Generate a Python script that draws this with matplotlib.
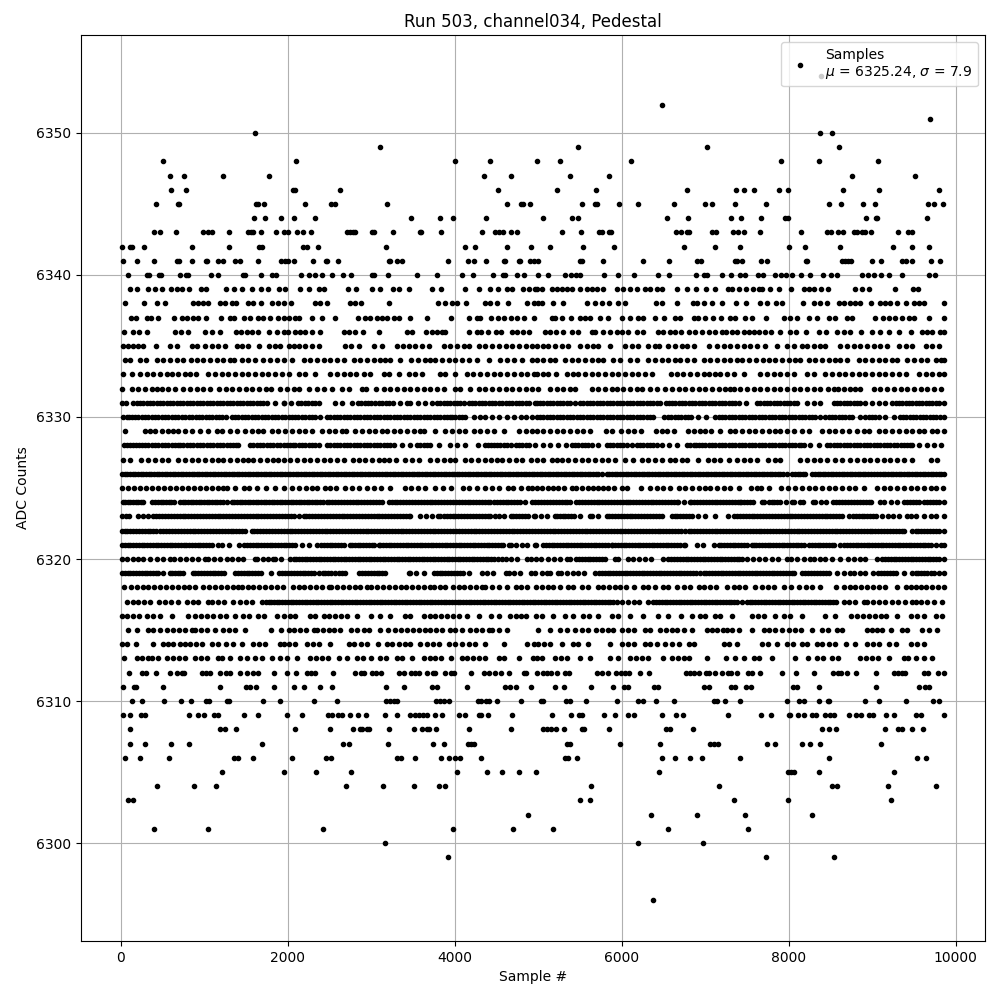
import matplotlib
matplotlib.use('Agg')
import matplotlib.pyplot as plt

# sample numbers, one list per ADC count
s6296 = [6381]
s6299 = [3916, 7725, 8541]
s6300 = [3160, 6201, 6969]
s6301 = [400, 1048, 2416, 3976, 4696, 5181, 6561, 7509]
s6302 = [4876, 6357, 6897, 7473, 8277]
s6303 = [84, 148, 5505, 5625, 7341, 7989, 9225]
s6304 = [436, 880, 1144, 2692, 3136, 3508, 3808, 3880, 5637, 7161, 8517, 8577, 9189, 9765]
s6305 = [1216, 1948, 2332, 2752, 4024, 4384, 4564, 4768, 4977, 6453, 7989, 8025, 8061, 8361, 9261]
s6306 = [52, 232, 580, 1360, 1408, 1588, 2044, 2452, 2512, 3312, 3360, 3520, 3832, 3928, 4000, 4060, 4312,
         5325, 5361, 5469, 6489, 6633, 6813, 6957, 7413, 8481, 9537, 9645]
s6307 = [112, 292, 604, 820, 1696, 2656, 2728, 3196, 3736, 3868, 4156, 4192, 4228, 5349, 5385, 5985, 6465,
         7053, 7101, 7149, 7737, 7833, 8157, 8253, 8373, 9105]
s6308 = [112, 1192, 1252, 1384, 2080, 2500, 2776, 2860, 2884, 2944, 2968, 3208, 3508, 3604, 3664, 3688, 3772,
         4168, 4672, 5061, 5109, 5157, 5217, 5313, 5529, 5553, 5853, 6537, 6585, 6849, 8397, 8481, 8565, 9153,
         9309, 9357, 9477, 9609]
s6309 = [28, 112, 244, 292, 820, 928, 1000, 1120, 1168, 1480, 1648, 1984, 2164, 2476, 2524, 2596, 2644, 2740,
         2836, 2932, 3160, 3304, 3460, 3520, 3568, 3616, 3664, 3760, 3844, 4048, 4120, 4288, 4312, 4396, 4684,
         5169, 5397, 5493, 5529, 5793, 5925, 6081, 6153, 6489, 6645, 6729, 7269, 7665, 7785, 8001, 8013, 8109,
         8181, 8277, 8325, 8433, 8493, 8541, 8721, 8805, 8865, 8961, 9009, 9165, 9261, 9525, 9585, 9861]
s6310 = [136, 256, 520, 724, 844, 1024, 1060, 1276, 1300, 1708, 1912, 2308, 2584, 3172, 3220, 3268, 3304, 3772,
         3820, 3868, 3928, 4276, 4312, 4372, 4408, 4504, 4792, 5037, 5061, 5337, 5385, 5577, 5949, 6201, 6261,
         6417, 6621, 7101, 7137, 7233, 7413, 7977, 8121, 8181, 8361, 8469, 8481, 8913, 9081, 9405, 9729, 9801]
s6311 = [28, 160, 184, 508, 1192, 1504, 1552, 1624, 1840, 2068, 2188, 2380, 2524, 3172, 3388, 3724, 3784, 4144,
         4600, 4660, 4732, 4912, 5205, 5313, 5637, 5901, 6033, 6081, 6393, 6441, 6981, 7041, 7305, 7353, 7485,
         7545, 8049, 8097, 8361, 9045, 9561, 9633, 9681]
s6312 = [100, 256, 304, 424, 592, 676, 736, 760, 976, 1024, 1072, 1192, 1264, 1312, 1432, 1516, 1588, 1648, 1840,
         1984, 2092, 2224, 2272, 2320, 2536, 2800, 2872, 2908, 3004, 3052, 3112, 3328, 3388, 3472, 3520, 3568,
         3664, 3736, 3760, 3880, 3952, 3988, 4192, 4348, 4408, 4480, 4552, 4648, 4828, 4852, 4989, 5061, 5109,
         5157, 5229, 5325, 5373, 5709, 5769, 5841, 5937, 5997, 6045, 6093, 6225, 6333, 6765, 6813, 6861, 6921,
         7005, 7041, 7113, 7197, 7269, 7305, 7377, 7509, 7557, 7653, 7917, 8085, 8301, 8529, 8589, 8625, 8697,
         8805, 9045, 9261, 9309, 9357, 9393, 9621, 9669, 9789, 9861]
s6313 = [40, 188, 258, 328, 376, 440, 548, 628, 698, 768, 888, 960, 1028, 1168, 1208, 1308, 1428, 1508, 1608, 1688,
         1808, 1908, 1988, 2108, 2268, 2338, 2408, 2478, 2608, 2708, 2828, 2896, 3000, 3108, 3178, 3308, 3368,
         3488, 3628, 3698, 3768, 3838, 3958, 4088, 4148, 4218, 4288, 4358, 4528, 4588, 4768, 4936, 4981, 5041,
         5201, 5271, 5341, 5501, 5621, 5861, 5961, 6101, 6171, 6241, 6311, 6501, 6601, 6671, 6741, 6811, 7021,
         7249, 7361, 7461, 7581, 7641, 7801, 8081, 8233, 8341, 8411, 8521, 8593, 8861, 8931, 9001, 9071, 9201,
         9381, 9433, 9521, 9621, 9721]
s6314 = [14, 74, 176, 388, 508, 568, 628, 708, 768, 828, 898, 968, 1088, 1168, 1258, 1348, 1456, 1588, 1658, 1728,
         1908, 1948, 2018, 2088, 2228, 2298, 2368, 2508, 2728, 2788, 2880, 2948, 3076, 3188, 3248, 3328, 3398,
         3468, 3588, 3668, 3738, 3808, 3928, 4008, 4088, 4168, 4248, 4368, 4588, 4868, 4948, 5001, 5071, 5141,
         5281, 5421, 5481, 5601, 5861, 6009, 6079, 6149, 6281, 6341, 6429, 6521, 6601, 6681, 6801, 6861, 7221,
         7289, 7381, 7681, 7751, 7861, 7981, 8051, 8161, 8221, 8341, 8401, 8481, 8561, 8689, 8793, 8941, 9011,
         9081, 9201, 9289, 9461, 9541, 9621]
s6315 = [88, 188, 328, 388, 468, 548, 628, 698, 768, 848, 888, 958, 1028, 1128, 1228, 1298, 1368, 1488, 1800, 1916,
         2008, 2078, 2148, 2218, 2308, 2348, 2418, 2488, 2558, 2628, 2760, 2828, 2908, 2978, 3108, 3200, 3288,
         3358, 3428, 3498, 3568, 3648, 3708, 3776, 3848, 3948, 4008, 4088, 4188, 4258, 4328, 4408, 4448, 4528,
         4628, 4993, 5141, 5261, 5349, 5441, 5521, 5593, 5689, 5761, 5831, 5901, 6001, 6081, 6151, 6281, 6341,
         6461, 6531, 6601, 6661, 6741, 6841, 7021, 7081, 7141, 7211, 7261, 7321, 7409, 7561, 7701, 7771, 7841,
         7921, 8001, 8081, 8151, 8281, 8401, 8471, 8581, 8641, 8941, 9001, 9061, 9121, 9233, 9361, 9421, 9593,
         9681, 9781]
s6316 = [14, 74, 144, 214, 308, 380, 468, 608, 800, 888, 960, 1028, 1108, 1188, 1258, 1368, 1468, 1538, 1648, 1716,
         1868, 1948, 2028, 2088, 2260, 2328, 2428, 2498, 2568, 2638, 2708, 2828, 3000, 3108, 3228, 3400, 3468,
         3628, 3698, 3768, 3838, 3908, 3978, 4048, 4148, 4288, 4440, 4528, 4656, 4728, 4788, 4858, 4968, 5049,
         5181, 5321, 5421, 5541, 5611, 5721, 5881, 5961, 6101, 6261, 6441, 6561, 6713, 6841, 6941, 7001, 7121,
         7181, 7321, 7561, 7631, 7701, 7841, 7941, 8021, 8161, 8441, 8561, 8753, 8823, 8893, 8963, 9033, 9103,
         9173, 9301, 9461, 9541, 9621, 9761, 9833]
s6317 = [68, 148, 208, 278, 348, 456, 528, 598, 688, 788, 858, 928, 1048, 1096, 1166, 1236, 1348, 1428, 1498, 1568,
         1688, 1736, 1800, 1866, 1934, 2000, 2066, 2132, 2200, 2268, 2334, 2400, 2466, 2534, 2600, 2666, 2732,
         2800, 2866, 2934, 3000, 3066, 3132, 3200, 3268, 3334, 3400, 3466, 3534, 3600, 3666, 3732, 3800, 3866,
         3934, 4000, 4066, 4132, 4200, 4268, 4334, 4400, 4466, 4534, 4600, 4666, 4732, 4800, 4866, 4934,
         4965, 5031, 5097, 5165, 5231, 5297, 5365, 5431, 5497, 5565, 5631, 5697, 5765, 5831, 5897, 5941, 6001,
         6073, 6143, 6213, 6321, 6381, 6447, 6515, 6581, 6647, 6715, 6781, 6847, 6915, 6981, 7047, 7115, 7181,
         7247, 7315, 7381, 7441, 7501, 7567, 7635, 7701, 7767, 7835, 7901, 7967, 8035, 8101, 8167, 8235, 8301,
         8367, 8435, 8501, 8567, 8661, 8721, 8801, 8901, 8941, 9011, 9081, 9151, 9241, 9313, 9393, 9481, 9521,
         9591, 9661, 9741, 9833]
f6317 = [1770, 1833, 1900, 1967, 2033, 2099, 2166, 2234, 2301, 2367, 2433, 2500, 2567, 2633, 2699, 2766, 2833, 2900,
         2967, 3033, 3099, 3166, 3234, 3301, 3367, 3433, 3500, 3567, 3633, 3699, 3766, 3833, 3900, 3967, 4033,
         4099, 4166, 4234, 4301, 4367, 4433, 4500, 4567, 4633, 4699, 4766, 4833, 4900, 4998, 5064, 5131, 5198,
         5264, 5331, 5398, 5464, 5531, 5598, 5664, 5731, 5798, 5864, 6414, 6481, 6548, 6614, 6681, 6748, 6814,
         6881, 6948, 7014, 7081, 7148, 7214, 7281, 7348, 7534, 7601, 7668, 7734, 7801, 7868, 7934, 8001, 8068,
         8134, 8201, 8268, 8334, 8401, 8468, 8534]
s6318 = [40, 120, 190, 260, 330, 400, 470, 540, 610, 680, 750, 820, 888, 988, 1058, 1128, 1198, 1268, 1338, 1408,
         1448, 1518, 1588, 1658, 1728, 1798, 1868, 1938, 2056, 2128, 2198, 2268, 2338, 2408, 2488, 2520, 2590,
         2660, 2730, 2800, 2870, 2948, 3000, 3070, 3140, 3210, 3280, 3350, 3420, 3490, 3560, 3630, 3708, 3748,
         3818, 3888, 3976, 4046, 4116, 4186, 4256, 4328, 4368, 4448, 4528, 4628, 4728, 4798, 4868, 4968, 5041,
         5121, 5181, 5261, 5361, 5421, 5521, 5593, 5721, 5781, 5849, 5921, 5981, 6049, 6153, 6261, 6313, 6401,
         6501, 6561, 6661, 6741, 6821, 6921, 6991, 7061, 7131, 7261, 7341, 7411, 7481, 7601, 7681, 7751, 7821,
         7941, 8031, 8121, 8209, 8281, 8381, 8569, 8661, 8731, 8801, 8871, 8941, 9011, 9081, 9151, 9301, 9401,
         9461, 9521, 9581, 9651, 9721, 9791, 9861]
s6319 = [14, 80, 148, 216, 284, 352, 420, 448, 500, 590, 608, 678, 748, 868, 888, 958, 1028, 1098, 1168, 1238, 1368,
         1400, 1470, 1540, 1610, 1680, 1800, 1896, 1966, 2036, 2106, 2176, 2246, 2316, 2378, 2416, 2486, 2568,
         2616, 2686, 2848, 2888, 2958, 3028, 3098, 3168, 3448, 3468, 3538, 3628, 3748, 3818, 3888, 3958, 4028, 4098,
         4168, 4328, 4388, 4458, 4608, 4648, 4708, 4778, 4908, 4965, 5041, 5101, 5141, 5241, 5273, 5341, 5411,
         5481, 5553, 5681, 5729, 5797, 5865, 5933, 6001, 6069, 6137, 6205, 6273, 6341, 6409, 6477, 6545, 6613,
         6681, 6749, 6817, 6885, 6941, 6981, 7049, 7117, 7185, 7253, 7321, 7389, 7457, 7525, 7593, 7661, 7729,
         7797, 7865, 7933, 8001, 8069, 8161, 8201, 8271, 8341, 8411, 8481, 8581, 8661, 8741, 8781, 8851, 8921,
         9009, 9073, 9143, 9213, 9283, 9381, 9481, 9521, 9591, 9661, 9741, 9801, 9861]
f6319 = [48, 114, 182, 250, 318, 386, 644, 713, 923, 993, 1063, 1133, 1203, 1435, 1505, 1575, 1645, 1931, 2001, 2071,
         2141, 2211, 2281, 2451, 2521, 2651, 2923, 2993, 3063, 3133, 3783, 3853, 3923, 3993, 4063, 5763, 5831,
         5899, 5967, 6035, 6103, 6171, 6239, 6307, 6375, 6443, 6511, 6579, 6647, 6715, 6783, 6851, 7015, 7083,
         7151, 7219, 7287, 7355, 7423, 7491, 7559, 7627, 7695, 7763, 7831, 7899, 7967, 8035, 8236, 8306, 8376,
         8446, 9108, 9178, 9248, 9556, 9626, 9701]
s6320 = [14, 70, 140, 208, 268, 348, 428, 508, 588, 640, 710, 780, 850, 920, 1008, 1048, 1118, 1188, 1268, 1328, 1398,
         1468, 1608, 1628, 1698, 1768, 1828, 1848, 1918, 2028, 2068, 2134, 2200, 2268, 2336, 2402, 2468, 2536, 2602,
         2668, 2736, 2802, 2868, 2936, 3002, 3068, 3136, 3202, 3268, 3336, 3402, 3468, 3536, 3602, 3668, 3736,
         3802, 3868, 3936, 4002, 4068, 4136, 4202, 4268, 4336, 4402, 4468, 4568, 4608, 4678, 4748, 4868, 4908,
         4968, 5033, 5121, 5191, 5261, 5341, 5381, 5451, 5521, 5591, 5661, 5731, 5801, 5921, 5961, 6081, 6141,
         6211, 6281, 6351, 6501, 6561, 6629, 6697, 6765, 6833, 6901, 6969, 7037, 7105, 7173, 7241, 7309, 7377,
         7441, 7501, 7571, 7641, 7721, 7801, 7871, 7981, 8033, 8101, 8181, 8253, 8301, 8371, 8441, 8521, 8621,
         8713, 8781, 8851, 8921, 9061, 9121, 9189, 9257, 9325, 9393, 9461, 9529, 9597, 9665, 9733, 9801, 9861]
f6320 = [2101, 2167, 2234, 2302, 2369, 2435, 2502, 2569, 2635, 2702, 2769, 2835, 2902, 2969, 3035, 3102, 3169, 3235,
         3302, 3369, 3435, 3502, 3569, 3635, 3702, 3769, 3835, 3902, 3969, 4035, 4102, 4169, 4235, 4302, 4369,
         4435, 4518, 5486, 5556, 5626, 5696, 5766, 6595, 6663, 6731, 6799, 6867, 6935, 7003, 7071, 7139, 7207,
         7275, 7343, 7409, 9155, 9223, 9291, 9359, 9427, 9495, 9563, 9631, 9699, 9767]
s6321 = [14, 80, 148, 214, 282, 348, 416, 482, 550, 616, 684, 750, 818, 884, 952, 1018, 1086, 1168, 1216, 1300, 1416,
         1480, 1548, 1614, 1682, 1748, 1816, 1882, 1950, 2016, 2084, 2168, 2248, 2348, 2400, 2468, 2534, 2602, 2668,
         2748, 2768, 2836, 2902, 2970, 3036, 3088, 3108, 3176, 3242, 3310, 3376, 3444, 3510, 3578, 3644, 3712,
         3778, 3846, 3912, 3980, 4046, 4114, 4180, 4248, 4314, 4382, 4448, 4516, 4582, 4648, 4668, 4736, 4802,
         4870, 4968, 4965, 5061, 5093, 5161, 5227, 5295, 5361, 5429, 5495, 5563, 5629, 5697, 5763, 5831, 5881,
         5889, 5957, 6023, 6091, 6157, 6225, 6291, 6359, 6425, 6493, 6559, 6627, 6693, 6741, 6761, 6901, 6973,
         7101, 7161, 7229, 7295, 7363, 7429, 7497, 7561, 7581, 7649, 7715, 7783, 7849, 7917, 7983, 8051, 8117,
         8185, 8241, 8281, 8349, 8415, 8483, 8549, 8617, 8661, 8701, 8769, 8835, 8903, 8969, 9037, 9103, 9171,
         9237, 9305, 9371, 9439, 9505, 9573, 9639, 9707, 9761, 9821, 9861]
f6321 = [47, 114, 181, 248, 315, 382, 449, 516, 583, 650, 717, 784, 851, 918, 985, 1052, 1514, 1581, 1648, 1715, 1782,
         1849, 1916, 1983, 2050, 2434, 2501, 2568, 2635, 2802, 2869, 2936, 3003, 3142, 3209, 3276, 3343, 3410,
         3477, 3544, 3611, 3678, 3745, 3812, 3879, 3946, 4013, 4080, 4147, 4214, 4281, 4348, 4415, 4482, 4549,
         5127, 5194, 5261, 5328, 5395, 5462, 5529, 5596, 5663, 5730, 5797, 5923, 5990, 6057, 6124, 6191, 6258,
         6325, 6392, 6459, 6526, 6593, 6660, 7195, 7262, 7329, 7396, 7463, 7615, 7682, 7749, 7816, 7883, 7950,
         8017, 8084, 8151, 8315, 8382, 8449, 8516, 8735, 8802, 8869, 8936, 9003, 9070, 9137, 9204, 9271, 9338,
         9405, 9472, 9539, 9606, 9673]
s6322 = [14, 74, 144, 214, 284, 354, 424, 468, 508, 578, 648, 718, 788, 858, 928, 998, 1068, 1138, 1208, 1278, 1348,
         1418, 1488, 1568, 1600, 1670, 1740, 1812, 1880, 1950, 2020, 2088, 2160, 2230, 2300, 2372, 2440, 2510, 2580,
         2648, 2720, 2790, 2860, 2932, 3000, 3070, 3140, 3208, 3280, 3350, 3420, 3492, 3560, 3630, 3700, 3768,
         3840, 3910, 3980, 4052, 4120, 4190, 4260, 4328, 4400, 4470, 4540, 4612, 4680, 4750, 4820, 4888, 4960,
         5030, 5100, 5172, 5240, 5310, 5380, 5448, 5520, 5590, 5660, 5732, 5800, 5870, 5940, 6008, 6080, 6150,
         6220, 6292, 6360, 6430, 6500, 6568, 6640, 6710, 6761, 6801, 6872, 6940, 7010, 7080, 7148, 7220, 7290,
         7360, 7432, 7500, 7570, 7640, 7708, 7780, 7850, 7920, 7992, 8060, 8130, 8200, 8268, 8340, 8410, 8480,
         8552, 8620, 8690, 8760, 8828, 8900, 8970, 9040, 9112, 9180, 9250, 9320, 9388, 9481, 9521, 9590, 9660,
         9728, 9800, 9861]
f6322 = [44, 109, 179, 249, 319, 389, 543, 613, 683, 753, 823, 893, 963, 1033, 1103, 1173, 1243, 1313, 1383, 1453, 1635,
         1705, 1776, 1846, 1915, 1985, 2054, 2124, 2195, 2265, 2336, 2406, 2475, 2545, 2614, 2684, 2755, 2825,
         2896, 2966, 3035, 3105, 3174, 3244, 3315, 3385, 3456, 3526, 3595, 3665, 3734, 3804, 3875, 3945, 4016,
         4086, 4155, 4225, 4294, 4364, 4435, 4505, 4576, 4646, 4715, 4785, 4854, 4924, 4995, 5065, 5136, 5206,
         5275, 5345, 5414, 5484, 5555, 5625, 5696, 5766, 5835, 5905, 5974, 6044, 6115, 6185, 6256, 6326, 6395,
         6465, 6534, 6604, 6675, 6836, 6906, 6975, 7045, 7114, 7184, 7255, 7325, 7396, 7466, 7535, 7605, 7674,
         7744, 7815, 7885, 7956, 8026, 8095, 8165, 8234, 8304, 8375, 8445, 8516, 8586, 8655, 8725, 8794, 8864,
         8935, 9005, 9076, 9146, 9215, 9285, 9354, 9555, 9625, 9694, 9764]
s6323 = [14, 56, 96, 208, 268, 320, 388, 458, 528, 598, 668, 738, 808, 878, 948, 1018, 1088, 1158, 1228, 1298, 1368,
         1438, 1508, 1578, 1648, 1718, 1788, 1858, 1928, 1998, 2068, 2128, 2188, 2258, 2328, 2398, 2468, 2538, 2608,
         2678, 2748, 2818, 2888, 2958, 3028, 3098, 3168, 3238, 3308, 3378, 3448, 3468, 3588, 3658, 3728, 3798,
         3828, 3868, 3938, 4008, 4078, 4148, 4218, 4288, 4358, 4428, 4488, 4536, 4596, 4668, 4738, 4808, 4878,
         4948, 4961, 5031, 5101, 5201, 5221, 5291, 5361, 5431, 5501, 5621, 5641, 5711, 5821, 5849, 5919, 5989,
         6059, 6129, 6199, 6269, 6339, 6409, 6479, 6601, 6633, 6703, 6773, 6843, 6913, 7001, 7121, 7273, 7341,
         7381, 7451, 7521, 7591, 7661, 7731, 7801, 7871, 7941, 8011, 8081, 8151, 8221, 8291, 8361, 8431, 8501,
         8571, 8641, 8721, 8769, 8839, 8909, 8979, 9049, 9121, 9193, 9249, 9319, 9421, 9461, 9531, 9621, 9701,
         9771, 9861]
f6323 = [423, 493, 563, 633, 703, 773, 843, 913, 983, 1053, 1123, 1193, 1263, 1333, 1403, 1473, 1543, 1613, 1683, 1753,
         1823, 1893, 1963, 2033, 2223, 2293, 2363, 2433, 2503, 2573, 2643, 2713, 2783, 2853, 2923, 2993, 3063,
         3133, 3203, 3273, 3343, 3413, 3903, 3973, 4043, 4113, 4183, 4253, 4323, 4393, 4703, 4773, 4843, 5256,
         5326, 5396, 5884, 5954, 6024, 6094, 6164, 6234, 6304, 6374, 6444, 6668, 6738, 6808, 7416, 7486, 7556,
         7626, 7696, 7766, 7836, 7906, 7976, 8046, 8116, 8186, 8256, 8326, 8396, 8466, 8536, 8606, 8804, 8874,
         8944, 9014]
s6324 = [20, 80, 148, 208, 268, 376, 440, 510, 576, 636, 708, 772, 836, 900, 964, 1028, 1092, 1156, 1220, 1268, 1328,
         1392, 1456, 1520, 1584, 1648, 1712, 1776, 1840, 1904, 1968, 2032, 2096, 2160, 2224, 2288, 2352, 2416, 2468,
         2496, 2566, 2636, 2706, 2776, 2846, 2916, 2986, 3056, 3128, 3208, 3278, 3348, 3418, 3488, 3558, 3628,
         3698, 3768, 3838, 3908, 3978, 4048, 4118, 4188, 4258, 4328, 4398, 4428, 4468, 4538, 4608, 4678, 4748,
         4776, 4846, 4928, 4965, 5035, 5105, 5175, 5245, 5315, 5385, 5449, 5489, 5559, 5629, 5699, 5769, 5839,
         5909, 5979, 6049, 6081, 6101, 6171, 6241, 6311, 6381, 6451, 6521, 6591, 6661, 6673, 6741, 6821, 6833,
         6903, 6973, 7043, 7113, 7183, 7253, 7323, 7393, 7421, 7433, 7503, 7573, 7681, 7701, 7761, 7831, 7901,
         7965, 8041, 8061, 8141, 8173, 8293, 8313, 8383, 8453, 8533, 8573, 8643, 8713, 8783, 8853, 8923, 8993,
         9101, 9141, 9233, 9303, 9381, 9421, 9491, 9561, 9621, 9661, 9731, 9801, 9861]
f6324 = [50, 114, 178, 238, 408, 475, 543, 606, 740, 804, 868, 932, 996, 1060, 1124, 1188, 1360, 1424, 1488, 1552, 1616,
         1680, 1744, 1808, 1872, 1936, 2000, 2064, 2128, 2192, 2256, 2320, 2384, 2531, 2601, 2671, 2741, 2811,
         2881, 2951, 3021, 3092, 3243, 3313, 3383, 3453, 3523, 3593, 3663, 3733, 3803, 3873, 3943, 4013, 4083,
         4153, 4223, 4293, 4363, 4503, 4573, 4643, 4713, 5000, 5070, 5140, 5210, 5280, 5350, 5524, 5594, 5664,
         5734, 5804, 5874, 5944, 6014, 6136, 6206, 6276, 6346, 6416, 6486, 6556, 6626, 6868, 6938, 7008, 7078,
         7148, 7218, 7288, 7358, 7468, 7538, 7796, 7866, 8608, 8678, 8748, 8818, 8888, 8958, 9456, 9526, 9696, 9766]
s6325 = [16, 88, 160, 232, 304, 376, 448, 520, 592, 664, 736, 808, 880, 952, 1024, 1096, 1168, 1228, 1268, 1368, 1480,
         1540, 1628, 1736, 1848, 1948, 2048, 2136, 2216, 2288, 2348, 2440, 2508, 2576, 2680, 2768, 2856, 2948, 3028,
         3120, 3228, 3400, 3480, 3560, 3640, 3760, 3856, 3960, 4096, 4176, 4268, 4360, 4448, 4536, 4640, 4696,
         4788, 4880, 4928, 4981, 5049, 5113, 5181, 5241, 5313, 5401, 5449, 5529, 5601, 5661, 5721, 5781, 5841,
         5913, 6009, 6061, 6233, 6341, 6421, 6501, 6581, 6689, 6761, 6841, 6921, 7001, 7061, 7141, 7221, 7301,
         7401, 7553, 7621, 7673, 7761, 7913, 7993, 8073, 8161, 8241, 8321, 8401, 8481, 8561, 8641, 8721, 8801,
         8901, 9061, 9141, 9221, 9301, 9381, 9461, 9541, 9621, 9701, 9761, 9849]
s6326 = [14, 76, 140, 206, 268, 334, 396, 462, 524, 590, 652, 718, 780, 846, 908, 974, 1036, 1102, 1164, 1230, 1292,
         1358, 1420, 1486, 1548, 1614, 1676, 1742, 1804, 1870, 1932, 1998, 2060, 2126, 2188, 2254, 2316, 2382, 2444,
         2510, 2572, 2638, 2700, 2766, 2828, 2894, 2956, 3022, 3096, 3160, 3226, 3288, 3354, 3416, 3482, 3544,
         3610, 3672, 3738, 3800, 3866, 3928, 3994, 4056, 4122, 4184, 4250, 4312, 4378, 4440, 4506, 4568, 4634,
         4696, 4762, 4824, 4890, 4952, 5016, 5082, 5144, 5210, 5272, 5338, 5400, 5466, 5528, 5594, 5656, 5722,
         5761, 5821, 5887, 5949, 6015, 6077, 6143, 6205, 6271, 6333, 6399, 6461, 6527, 6589, 6655, 6717, 6783,
         6845, 6911, 6973, 7039, 7101, 7167, 7229, 7295, 7357, 7423, 7485, 7551, 7613, 7679, 7741, 7807, 7869,
         7935, 7981, 8041, 8107, 8169, 8201, 8281, 8347, 8409, 8475, 8537, 8603, 8665, 8731, 8793, 8859, 8921,
         8987, 9021, 9061, 9127, 9189, 9255, 9317, 9383, 9445, 9511, 9573, 9639, 9701, 9767, 9829, 9861]
f6326 = [45, 108, 173, 237, 301, 365, 429, 493, 557, 621, 685, 749, 813, 877, 941, 1005, 1069, 1133, 1197, 1261, 1325,
         1389, 1453, 1517, 1581, 1645, 1709, 1773, 1837, 1901, 1965, 2029, 2093, 2157, 2221, 2285, 2349, 2413,
         2477, 2541, 2605, 2669, 2733, 2797, 2861, 2925, 2989, 3059, 3128, 3193, 3257, 3321, 3385, 3449, 3513,
         3577, 3641, 3705, 3769, 3833, 3897, 3961, 4025, 4089, 4153, 4217, 4281, 4345, 4409, 4473, 4537, 4601,
         4665, 4729, 4793, 4857, 4921, 4984, 5049, 5113, 5177, 5241, 5305, 5369, 5433, 5497, 5561, 5625, 5689,
         5854, 5918, 5982, 6046, 6110, 6174, 6238, 6302, 6366, 6430, 6494, 6558, 6622, 6686, 6750, 6814, 6878,
         6942, 7006, 7070, 7134, 7198, 7262, 7326, 7390, 7454, 7518, 7582, 7646, 7710, 7774, 7838, 7902, 8074,
         8138, 8314, 8378, 8442, 8506, 8570, 8634, 8698, 8762, 8826, 8890, 8954, 9094, 9158, 9222, 9286, 9350,
         9414, 9478, 9542, 9606, 9670, 9734, 9798]
s6327 = [28, 108, 236, 328, 408, 488, 568, 688, 768, 848, 928, 1008, 1088, 1168, 1228, 1308, 1388, 1468, 1528, 1588,
         1668, 1748, 1828, 1888, 1948, 2028, 2108, 2188, 2268, 2348, 2428, 2508, 2588, 2668, 2776, 2848, 2928, 3008,
         3088, 3148, 3208, 3296, 3408, 3488, 3568, 3708, 3788, 3868, 3948, 4008, 4128, 4200, 4280, 4360, 4440,
         4508, 4568, 4648, 4728, 4808, 4908, 4981, 5061, 5161, 5221, 5281, 5361, 5441, 5521, 5601, 5681, 5761,
         5841, 5921, 6041, 6141, 6241, 6321, 6401, 6481, 6581, 6641, 6721, 6781, 6913, 7033, 7101, 7181, 7281,
         7381, 7461, 7541, 7621, 7753, 7833, 7901, 8141, 8221, 8301, 8381, 8461, 8561, 8641, 8741, 8821, 8901,
         8981, 9061, 9141, 9221, 9301, 9381, 9481, 9701, 9781]
s6328 = [40, 108, 176, 248, 328, 408, 488, 568, 648, 708, 788, 868, 948, 1028, 1108, 1188, 1268, 1348, 1408, 1548, 1628,
         1708, 1788, 1868, 1948, 2028, 2088, 2168, 2248, 2328, 2368, 2468, 2548, 2628, 2708, 2788, 2868, 2948, 3028,
         3108, 3188, 3268, 3368, 3468, 3548, 3628, 3708, 3816, 3948, 4028, 4120, 4280, 4360, 4440, 4508, 4588,
         4668, 4728, 4808, 4888, 4960, 5061, 5141, 5241, 5329, 5401, 5481, 5561, 5641, 5713, 5821, 5901, 5981,
         6061, 6121, 6181, 6261, 6341, 6421, 6489, 6569, 6661, 6781, 6861, 6921, 7001, 7081, 7161, 7241, 7321,
         7401, 7481, 7561, 7641, 7721, 7801, 7881, 7961, 8041, 8121, 8181, 8261, 8361, 8461, 8541, 8621, 8701,
         8781, 8861, 8941, 9021, 9101, 9181, 9261, 9341, 9421, 9481, 9561, 9661, 9741, 9821]
f6328 = [74, 142, 212, 288, 368, 448, 528, 608, 678, 748, 828, 908, 988, 1068, 1148, 1228, 1308, 1378, 1588, 1668, 1748,
         1828, 1908, 1988, 2058, 2128, 2208, 2288, 2508, 2588, 2668, 2748, 2828, 2908, 2988, 3068, 3148, 3228,
         3588, 3668, 4400, 4474, 4548, 4628, 4768, 4848, 5441, 5521, 5601, 5861, 5941, 6021, 6221, 6301, 6381,
         6821, 6891, 6961, 7041, 7121, 7201, 7281, 7361, 7441, 7521, 7601, 7681, 7761, 7841, 7921, 8001, 8081,
         8151, 8501, 8581, 8661, 8741, 8821, 8901, 8981, 9061, 9141, 9221, 9301, 9381, 9451]
s6329 = [48, 288, 348, 408, 488, 568, 628, 688, 768, 848, 948, 1048, 1148, 1208, 1308, 1388, 1488, 1568, 1648, 1708, 1808,
         1888, 1968, 2048, 2128, 2208, 2288, 2408, 2488, 2568, 2648, 2696, 2800, 2888, 2968, 3048, 3128, 3188, 3268,
         3348, 3428, 3508, 3588, 3628, 3760, 3888, 3968, 4048, 4128, 4228, 4308, 4388, 4468, 4588, 4768, 4848,
         4928, 4981, 5061, 5141, 5221, 5301, 5381, 5461, 5541, 5621, 5809, 5881, 5993, 6073, 6153, 6233, 6409,
         6481, 6541, 6625, 6793, 6861, 6941, 7001, 7073, 7181, 7293, 7361, 7441, 7521, 7601, 7681, 7761, 7841,
         7901, 7981, 8061, 8161, 8241, 8401, 8481, 8561, 8641, 8721, 8821, 8901, 8961, 9081, 9161, 9241, 9321,
         9401, 9481, 9561, 9621, 9721, 9781, 9861]
s6330 = [28, 68, 128, 208, 288, 368, 448, 528, 608, 688, 768, 856, 936, 1016, 1096, 1176, 1256, 1328, 1408, 1488, 1568,
         1648, 1728, 1808, 1888, 1968, 2048, 2120, 2168, 2248, 2328, 2380, 2468, 2548, 2628, 2708, 2788, 2868, 2948,
         3028, 3108, 3188, 3268, 3348, 3428, 3508, 3588, 3668, 3748, 3828, 3908, 3968, 4048, 4128, 4228, 4308,
         4368, 4448, 4528, 4628, 4708, 4788, 4848, 4928, 4981, 5061, 5141, 5221, 5301, 5381, 5461, 5541, 5621,
         5701, 5781, 5861, 5941, 6021, 6101, 6181, 6261, 6341, 6381, 6513, 6593, 6673, 6753, 6833, 6913, 7009,
         7121, 7201, 7281, 7361, 7441, 7521, 7601, 7681, 7761, 7841, 7921, 8001, 8081, 8161, 8241, 8321, 8381,
         8441, 8521, 8601, 8681, 8761, 8861, 8921, 9001, 9081, 9161, 9261, 9329, 9409, 9489, 9569, 9649, 9729,
         9809, 9861]
f6330 = [98, 168, 248, 328, 408, 488, 568, 648, 728, 812, 896, 976, 1056, 1136, 1216, 1368, 1448, 1528, 1608, 1688, 1768,
         1848, 1928, 2008, 2084, 2208, 2288, 2508, 2588, 2668, 2748, 2828, 2908, 2988, 3068, 3148, 3228, 3308,
         3388, 3468, 3548, 3628, 3708, 3788, 3868, 3938, 4008, 4088, 5021, 5101, 5181, 5261, 5341, 5421, 5501,
         5581, 5661, 5741, 5821, 5901, 5981, 6061, 6141, 6221, 6301, 6553, 6633, 6713, 6793, 7161, 7241, 7321,
         7401, 7481, 7561, 7641, 7721, 7801, 7881, 7961, 8041, 8121, 8201, 8281, 8481, 8561, 8641, 8721, 8961,
         9041, 9369, 9449, 9529, 9609, 9689, 9769]
s6331 = [14, 56, 148, 228, 308, 388, 468, 548, 628, 708, 788, 868, 948, 1028, 1108, 1188, 1268, 1348, 1428, 1508, 1588,
         1668, 1748, 1848, 1948, 2036, 2120, 2200, 2288, 2368, 2568, 2648, 2768, 2840, 2920, 3000, 3088, 3176, 3256,
         3348, 3428, 3468, 3560, 3648, 3728, 3788, 3868, 3948, 4028, 4108, 4168, 4248, 4328, 4408, 4488, 4568,
         4648, 4728, 4808, 4888, 4960, 4981, 5061, 5141, 5221, 5301, 5381, 5441, 5501, 5581, 5661, 5741, 5821,
         5901, 5981, 6061, 6141, 6221, 6301, 6381, 6461, 6529, 6601, 6681, 6761, 6841, 6921, 7001, 7081, 7161,
         7241, 7321, 7401, 7489, 7621, 7701, 7781, 7861, 7941, 8021, 8101, 8221, 8301, 8381, 8541, 8621, 8701,
         8781, 8861, 8921, 9001, 9081, 9161, 9241, 9321, 9401, 9481, 9561, 9641, 9721, 9801, 9861]
f6331 = [188, 268, 348, 428, 508, 588, 668, 748, 828, 908, 988, 1068, 1148, 1228, 1308, 1388, 1468, 1548, 1628, 1708, 1948,
         2160, 2244, 2328, 2880, 2960, 3044, 3132, 3216, 3828, 3908, 3988, 4068, 4208, 4288, 4368, 4448, 4528,
         4608, 4688, 4768, 4848, 5021, 5101, 5181, 5261, 5341, 5541, 5621, 5701, 5781, 5861, 5941, 6021, 6101,
         6181, 6261, 6341, 6421, 6565, 6641, 6721, 6801, 6881, 6961, 7041, 7121, 7201, 7281, 7361, 7661, 7741,
         7821, 7901, 7981, 8061, 8581, 8661, 8741, 8821, 9281, 9361, 9441, 9521, 9601, 9681, 9761]
s6332 = [16, 128, 208, 288, 368, 428, 496, 568, 648, 748, 828, 908, 988, 1068, 1176, 1256, 1336, 1416, 1496, 1576, 1656,
         1736, 1800, 1908, 1988, 2068, 2128, 2248, 2348, 2428, 2528, 2648, 2736, 2888, 2936, 3056, 3148, 3228, 3308,
         3388, 3468, 3548, 3628, 3708, 3788, 3872, 4000, 4068, 4188, 4288, 4368, 4448, 4528, 4608, 4688, 4768,
         4848, 4928, 5001, 5141, 5221, 5301, 5381, 5441, 5649, 5721, 5801, 5881, 5941, 6021, 6101, 6181, 6241,
         6341, 6421, 6521, 6601, 6681, 6761, 6841, 6921, 7001, 7081, 7161, 7241, 7301, 7349, 7421, 7501, 7581,
         7661, 7741, 7821, 7901, 7981, 8061, 8141, 8221, 8301, 8381, 8473, 8541, 8593, 8661, 8741, 8801, 8861,
         9021, 9101, 9181, 9261, 9341, 9421, 9501, 9581, 9661, 9741, 9821]
s6333 = [28, 128, 228, 308, 388, 468, 548, 608, 688, 768, 828, 900, 1048, 1128, 1208, 1288, 1368, 1448, 1528, 1608, 1688,
         1768, 1848, 1928, 2008, 2128, 2208, 2320, 2508, 2588, 2668, 2748, 2816, 2908, 2988, 3148, 3208, 3328, 3448,
         3528, 3608, 3828, 3888, 4008, 4148, 4216, 4308, 4388, 4468, 4548, 4628, 4708, 4788, 4868, 4948, 4981,
         5061, 5121, 5209, 5341, 5421, 5481, 5561, 5641, 5721, 5801, 5881, 5961, 6041, 6121, 6201, 6281, 6361,
         6593, 6661, 6733, 6821, 6901, 6981, 7041, 7121, 7181, 7261, 7341, 7465, 7661, 7741, 7821, 7901, 7981,
         8061, 8221, 8301, 8441, 8521, 8601, 8681, 8761, 8841, 8921, 9001, 9081, 9161, 9241, 9321, 9401, 9561,
         9641, 9721, 9801, 9861]
s6334 = [48, 108, 228, 296, 428, 508, 588, 668, 748, 840, 908, 988, 1068, 1148, 1228, 1308, 1360, 1448, 1528, 1608, 1708,
         1788, 1868, 1948, 2048, 2188, 2268, 2348, 2428, 2508, 2588, 2668, 2788, 2868, 2948, 3028, 3108, 3168, 3220,
         3340, 3480, 3560, 3640, 3708, 3768, 3848, 3928, 4008, 4088, 4168, 4268, 4408, 4548, 4628, 4708, 4800,
         4928, 4981, 5061, 5141, 5201, 5321, 5401, 5481, 5561, 5641, 5721, 5781, 5901, 5981, 6101, 6181, 6321,
         6401, 6481, 6561, 6633, 6701, 6781, 6861, 6981, 7061, 7141, 7221, 7301, 7381, 7441, 7529, 7609, 7689,
         7761, 7841, 7921, 8001, 8081, 8141, 8241, 8321, 8401, 8481, 8561, 8621, 8701, 8841, 8921, 9001, 9081,
         9161, 9241, 9301, 9421, 9501, 9581, 9661, 9761, 9821, 9861]
s6335 = [24, 88, 148, 208, 268, 416, 588, 668, 848, 908, 1008, 1088, 1168, 1248, 1388, 1448, 1528, 1656, 1776, 1848, 1908,
         2008, 2068, 2128, 2208, 2288, 2368, 2688, 2760, 2848, 3028, 3128, 3308, 3376, 3448, 3528, 3608, 3688, 3868,
         3948, 4028, 4108, 4168, 4288, 4368, 4448, 4528, 4608, 4688, 4768, 4848, 4928, 4981, 5061, 5121, 5201,
         5281, 5361, 5501, 5581, 5661, 5721, 5861, 6041, 6121, 6201, 6321, 6401, 6449, 6561, 6641, 6721, 6781,
         6861, 7041, 7141, 7221, 7301, 7381, 7461, 7541, 7621, 7721, 7861, 7981, 8061, 8161, 8221, 8301, 8381,
         8441, 8621, 8701, 8781, 8861, 8941, 9021, 9101, 9181, 9321, 9401, 9481, 9641, 9721, 9801]
s6336 = [40, 148, 216, 308, 648, 720, 800, 1008, 1088, 1188, 1376, 1440, 1508, 1576, 1640, 1776, 1868, 1948, 1996, 2088,
         2148, 2200, 2288, 2388, 2668, 2728, 2808, 2896, 3088, 3428, 3488, 3656, 3728, 3788, 3848, 3888, 4168, 4268,
         4320, 4400, 4496, 4560, 4680, 4748, 4816, 4888, 5081, 5141, 5209, 5301, 5409, 5481, 5641, 5681, 5781,
         5861, 5941, 6001, 6081, 6181, 6261, 6433, 6501, 6581, 6641, 6713, 6801, 6881, 6961, 7041, 7121, 7201,
         7249, 7321, 7381, 7461, 7521, 7581, 7649, 7721, 7793, 7901, 8021, 8089, 8209, 8361, 8449, 8581, 8661,
         8741, 8873, 9001, 9101, 9201, 9321, 9461, 9601, 9661, 9721, 9809, 9861]
s6337 = [120, 176, 308, 360, 448, 640, 728, 788, 868, 928, 1016, 1200, 1308, 1360, 1480, 1548, 1648, 1708, 1788, 1888, 1948,
         2016, 2080, 2136, 2288, 2408, 2560, 2840, 2928, 2988, 3068, 3128, 3188, 3268, 3328, 3460, 3664, 3956, 4176,
         4268, 4308, 4436, 4520, 4588, 4668, 4748, 4828, 4948, 5161, 5201, 5289, 5393, 5501, 5561, 5621, 5741,
         5833, 6009, 6097, 6201, 6261, 6401, 6509, 6641, 6701, 6861, 6913, 7001, 7089, 7189, 7301, 7353, 7481,
         7561, 7729, 7941, 8021, 8101, 8241, 8345, 8481, 8561, 8701, 8761, 9033, 9129, 9201, 9273, 9361, 9441,
         9501, 9681, 9861]
s6338 = [48, 280, 428, 528, 868, 928, 988, 1048, 1188, 1248, 1328, 1376, 1520, 1588, 1676, 1808, 1888, 1948, 2036, 2328,
         2388, 2468, 2748, 2808, 2876, 3208, 3800, 3888, 3968, 4028, 4136, 4360, 4428, 4508, 4632, 4868, 4948, 5001,
         5049, 5181, 5301, 5589, 5681, 5761, 5849, 5961, 6041, 6409, 6481, 6661, 6849, 6901, 6981, 7081, 7201,
         7369, 7493, 7661, 7741, 7849, 7921, 8169, 8301, 8381, 8461, 8601, 8661, 8741, 8801, 8861, 8993, 9101,
         9161, 9221, 9301, 9401, 9501, 9561, 9621, 9861]
s6339 = [108, 188, 328, 408, 488, 600, 668, 728, 816, 960, 1016, 1256, 1360, 1456, 1576, 1676, 1768, 1896, 1960, 2140, 2248,
         2368, 2428, 2720, 2816, 3008, 3100, 3256, 3328, 3448, 3728, 3840, 4128, 4296, 4428, 4516, 4628, 4688, 4816,
         4888, 4960, 4981, 5049, 5161, 5221, 5281, 5341, 5401, 5501, 5581, 5641, 5701, 5781, 5941, 6021, 6101,
         6181, 6281, 6341, 6421, 6489, 6661, 6781, 6889, 7005, 7113, 7273, 7321, 7401, 7489, 7569, 7641, 7681,
         7781, 7881, 8033, 8181, 8241, 8301, 8385, 8473, 8801, 8881, 8961, 9273, 9489, 9553]
s6340 = [84, 316, 340, 460, 484, 712, 784, 808, 1084, 1168, 1468, 1492, 1684, 1816, 1864, 2152, 2248, 2320, 2404, 2524, 2656,
         2752, 3004, 3028, 3196, 3544, 3784, 4084, 4216, 4456, 4576, 4600, 4744, 4828, 5001, 5121, 5325, 5397, 5457,
         5505, 5793, 5961, 6153, 6441, 6573, 6885, 6981, 7017, 7197, 7305, 7413, 7473, 7629, 7689, 7833, 7905,
         7965, 8037, 8145, 8253, 8409, 8505, 8577, 8877, 8949, 9021, 9105, 9201, 9357, 9681, 9753]
s6341 = [28, 196, 400, 676, 700, 856, 1024, 1036, 1168, 1228, 1372, 1432, 1648, 1924, 1960, 1996, 2068, 2296, 2452, 2472,
         2596, 3208, 3220, 3304, 3364, 3916, 4156, 4228, 4372, 4588, 4600, 4768, 4780, 4900, 4953, 5001, 5505,
         5529, 5781, 6261, 6573, 6897, 6945, 7353, 7377, 7437, 7665, 7737, 8205, 8217, 8637, 8673, 8709, 8745,
         8997, 9105, 9357, 9405, 9477, 9705, 9813]
s6342 = [14, 112, 136, 280, 856, 1300, 1660, 1696, 2176, 2224, 2356, 3172, 4120, 4240, 4624, 4912, 5145, 5541, 5913, 6741,
         7113, 7413, 8001, 8193, 8613, 9249, 9477, 9681]
s6343 = [400, 472, 664, 988, 1048, 1096, 1300, 1528, 1564, 1588, 1684, 1864, 1948, 1996, 2104, 2176, 2272, 2704, 2740,
         2776, 2800, 3004, 3028, 3256, 3580, 3592, 3832, 4324, 4480, 4528, 4576, 4672, 4744, 5289, 5517, 5733, 5769,
         5853, 5877, 6645, 6705, 6777, 6801, 7077, 7125, 7329, 7389, 7461, 7653, 8145, 8457, 8505, 8589, 8649,
         8781, 8817, 8877, 8913, 8985, 9309, 9429, 9477]
s6344 = [1600, 1732, 1924, 2068, 2320, 3472, 3820, 3976, 4372, 5061, 5409, 5481, 6549, 6789, 7305, 7425, 7665, 7953, 7989,
         8925, 9045, 9057, 9657]
s6345 = [424, 688, 700, 1624, 1648, 1720, 2200, 2512, 2560, 3184, 4624, 4792, 4820, 4900, 5529, 5685, 5709, 5973, 6201,
         6621, 6993, 7077, 7353, 7725, 8481, 8625, 8889, 9033, 9669, 9741, 9849]
s6346 = [604, 784, 2056, 2080, 2620, 4516, 5229, 5697, 6777, 7365, 7461, 7581, 7881, 7989, 8649, 9081, 9801]
s6347 = [592, 760, 1228, 1780, 4348, 4672, 5385, 5853, 8757, 9513]
s6348 = [508, 2092, 4000, 4420, 4989, 5265, 6117, 7905, 8361, 9069]
s6349 = [3100, 5481, 7017, 8601]
s6350 = [1612, 8373, 8517]
s6351 = [9693]
s6352 = [6489]
s6354 = [8385]

counts = [6296, 6299, 6300, 6301, 6302, 6303, 6304, 6305, 6306, 6307, 6308, 6309, 6310, 6311, 6312, 6313, 6314,
          6315, 6316, 6317, 6317, 6318, 6319, 6319, 6320, 6320, 6321, 6321, 6322, 6322, 6323, 6323, 6324, 6324,
          6325, 6326, 6326, 6327, 6328, 6328, 6329, 6330, 6330, 6331, 6331, 6332, 6333, 6334, 6335, 6336, 6337,
          6338, 6339, 6340, 6341, 6342, 6343, 6344, 6345, 6346, 6347, 6348, 6349, 6350, 6351, 6352, 6354]
rows = [s6296, s6299, s6300, s6301, s6302, s6303, s6304, s6305, s6306, s6307, s6308, s6309, s6310, s6311, s6312,
        s6313, s6314, s6315, s6316, s6317, f6317, s6318, s6319, f6319, s6320, f6320, s6321, f6321, s6322, f6322,
        s6323, f6323, s6324, f6324, s6325, s6326, f6326, s6327, s6328, f6328, s6329, s6330, f6330, s6331, f6331,
        s6332, s6333, s6334, s6335, s6336, s6337, s6338, s6339, s6340, s6341, s6342, s6343, s6344, s6345, s6346,
        s6347, s6348, s6349, s6350, s6351, s6352, s6354]

xs = []
ys = []
for count, row in zip(counts, rows):
    xs += row
    ys += [count] * len(row)

fig, ax = plt.subplots(figsize=(10, 10))
ax.plot(xs, ys, '.', color='black', label='Samples\n$\\mu$ = 6325.24, $\\sigma$ = 7.9')
ax.set_title('Run 503, channel034, Pedestal')
ax.set_xlabel('Sample #')
ax.set_ylabel('ADC Counts')
ax.grid(True)
ax.legend(loc='upper right')
fig.subplots_adjust(left=0.081, right=0.985, top=0.965, bottom=0.059)
fig.savefig('out.png', dpi=100)
